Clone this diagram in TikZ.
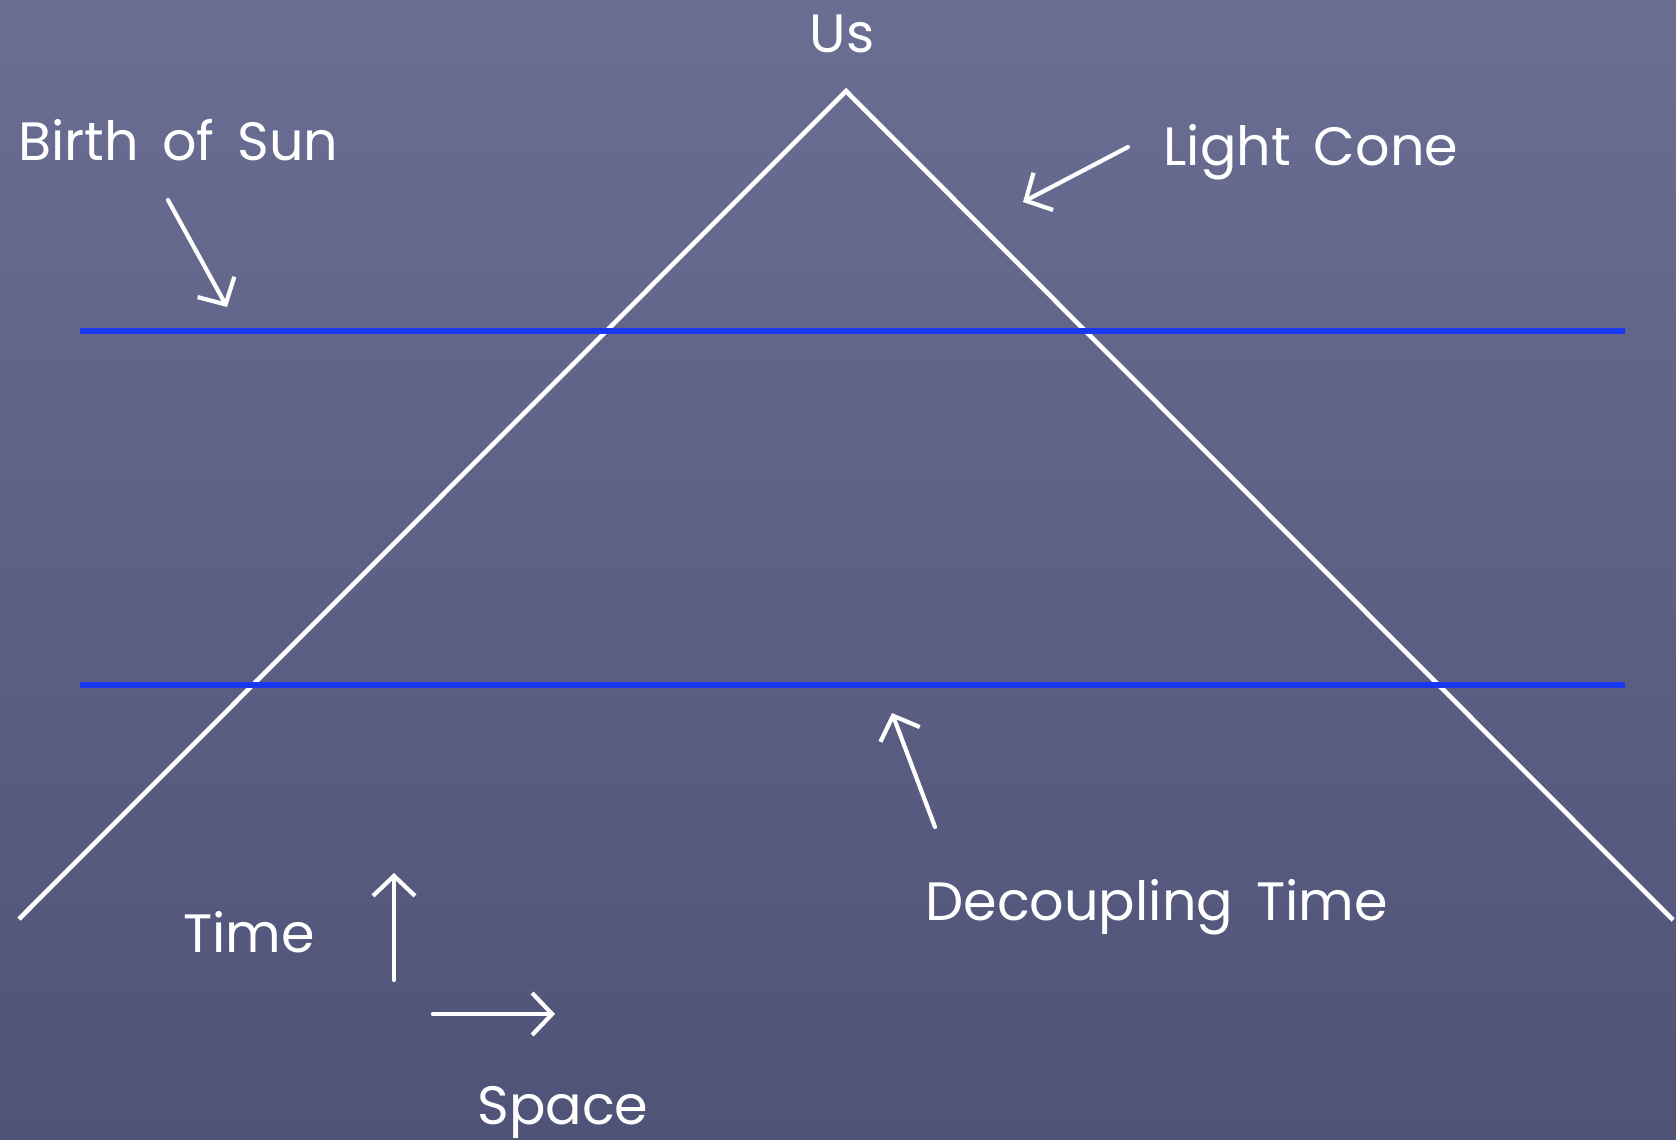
\documentclass[tikz,border=0pt]{standalone}
\usepackage{fontspec}
\setmainfont{Poppins}[WordSpace=1.6]
\usetikzlibrary{arrows.meta,positioning}
\definecolor{boardtop}{HTML}{6A6E92}
\definecolor{boardbot}{HTML}{4F5377}
\definecolor{epochblue}{HTML}{1838F5}
\tikzset{
  cone/.style={draw=white, line width=2.3pt},
  epoch/.style={draw=epochblue, line width=2.7pt},
  lbl/.style={text=white, font=\fontsize{27}{30}\selectfont, inner sep=0pt},
  pointer/.style={draw=white, line width=2.1pt, line cap=round, -{Straight Barb[length=10pt,width=21pt]}}
}

\begin{document}
\begin{tikzpicture}[x=0.5pt,y=-0.5pt]
\shade[top color=boardtop, bottom color=boardbot] (0,0) rectangle (1676,1140);
\useasboundingbox (0,0) rectangle (1676,1140);
% light cone
\coordinate (apex) at (846,91);
\coordinate (coneL) at (19,919);
\coordinate (coneR) at (1673,920);
\draw[cone] (coneL) -- (apex) -- (coneR);
% epochs
\coordinate (sunL) at (80,331);
\coordinate (sunR) at (1625,331);
\coordinate (decL) at (80,685);
\coordinate (decR) at (1625,685);
\draw[epoch] (sunL) -- (sunR);
\draw[epoch] (decL) -- (decR);
% labels
\node[lbl, anchor=base] (us) at (842,53) {Us};
\node[lbl, anchor=base west] (sun) at (18,160) {Birth of Sun};
\node[lbl, anchor=base west] (lightcone) at (1163,165) {Light Cone};
\node[lbl, anchor=base west] (decoupling) at (925,920) {Decoupling Time};
\node[lbl, anchor=base west] (time) at (183,952) {Time};
\node[lbl, anchor=base west] (space) at (477,1124) {Space};
% pointers
\coordinate (sunTail) at (168,200);
\coordinate (sunTip) at (227,307);
\coordinate (coneTail) at (1128,147);
\coordinate (coneTip) at (1023,202);
\coordinate (decTail) at (935,827);
\coordinate (decTip) at (892,713);
\coordinate (timeTail) at (394,980);
\coordinate (timeTip) at (394,873);
\coordinate (spaceTail) at (433,1014);
\coordinate (spaceTip) at (555,1014);
\draw[pointer] (sunTail) -- (sunTip);
\draw[pointer] (coneTail) -- (coneTip);
\draw[pointer] (decTail) -- (decTip);
\draw[pointer] (timeTail) -- (timeTip);
\draw[pointer] (spaceTail) -- (spaceTip);
\end{tikzpicture}
\end{document}
